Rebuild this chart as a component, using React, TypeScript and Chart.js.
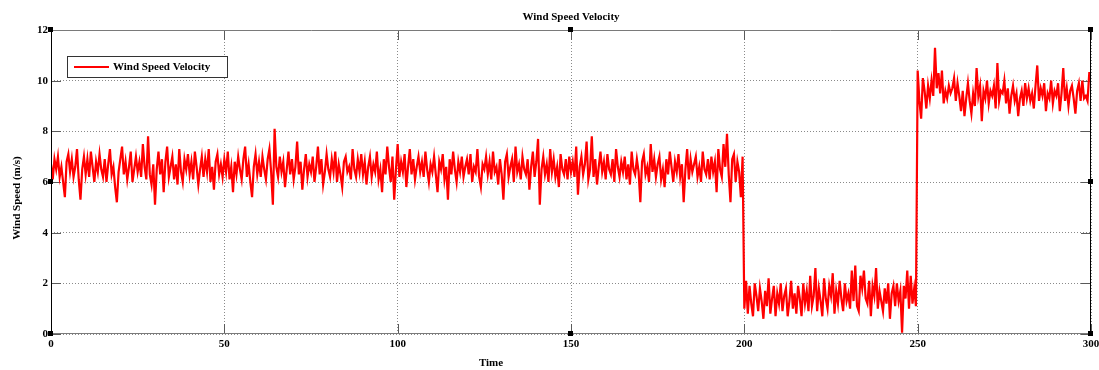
import React, { useEffect, useRef } from 'react';
import { Chart, registerables } from 'chart.js';

Chart.register(...registerables);

const FONT = '"Liberation Serif", "Times New Roman", serif';
const CHART_TITLE = 'Wind Speed Velocity';
const X_TITLE = 'Time';
const Y_TITLE = 'Wind Speed (m/s)';
const SERIES_LABEL = 'Wind Speed Velocity';

const TIME_STEP = 0.5;
const X_MIN = 0;
const X_MAX = 300;
const X_TICK_STEP = 50;
const Y_MIN = 0;
const Y_MAX = 12;
const Y_TICK_STEP = 2;

// t = 0 .. 199.5 (step 0.5)
const normalWindValues = [
  6.7, 6.1, 6.9, 6.5, 7.0, 6.2, 6.6, 6.0, 5.4, 6.8, 7.1, 6.4, 6.9, 6.2, 6.6, 7.3, 6.1, 5.3, 6.5, 7.0,
  6.3, 6.9, 6.2, 7.2, 6.6, 6.0, 6.8, 6.4, 7.1, 6.5, 6.2, 6.9, 6.0, 6.7, 7.3, 6.3, 6.6, 5.8, 5.2, 6.4,
  6.9, 7.4, 6.3, 6.8, 6.1, 6.6, 7.2, 6.0, 6.5, 7.0, 6.4, 6.8, 6.2, 7.5, 6.6, 6.1, 7.8, 6.3, 5.9, 6.7,
  5.1, 6.5, 7.2, 6.3, 6.9, 5.6, 6.8, 7.4, 6.2, 6.6, 7.0, 6.1, 6.7, 5.9, 7.3, 6.4, 6.0, 6.9, 6.5, 7.1,
  6.3, 6.8, 6.1, 7.2, 6.6, 5.9, 6.5, 7.0, 6.2, 6.9, 6.4, 7.3, 6.0, 6.6, 5.7, 6.8, 7.1, 6.3, 6.7, 6.2,
  6.9, 6.4, 7.2, 6.1, 6.6, 5.6, 6.8, 6.3, 7.0, 6.5, 6.1, 6.9, 7.4, 6.2, 6.7, 6.0, 5.4, 6.6, 7.1, 6.3,
  6.8, 6.2, 7.0, 6.5, 6.1, 6.9, 7.3, 6.4, 5.1, 8.1, 6.6, 6.2, 7.0, 6.4, 6.8, 5.8, 6.5, 7.2, 6.3, 6.9,
  6.1, 6.6, 7.6, 6.3, 6.8, 5.7, 6.5, 7.1, 6.2, 6.7, 6.4, 7.0, 6.0, 6.6, 7.4, 6.3, 6.9, 5.9, 6.4, 7.1,
  6.5, 6.2, 6.9, 6.4, 7.2, 6.0, 6.7, 6.3, 5.8, 6.8, 7.0, 6.4, 6.6, 6.1, 7.3, 6.5, 6.2, 6.9, 6.4, 7.1,
  6.3, 6.8, 5.9, 6.6, 7.0, 6.2, 6.7, 6.4, 7.2, 6.1, 6.5, 5.6, 6.9, 6.3, 7.4, 6.6, 6.0, 7.0, 5.3, 6.5,
  7.5, 6.2, 6.8, 6.4, 7.1, 5.8, 6.6, 7.3, 6.3, 6.9, 6.1, 6.6, 7.0, 6.4, 6.8, 6.2, 7.2, 6.5, 6.0, 6.7,
  6.4, 7.0, 6.3, 5.6, 6.8, 6.5, 7.1, 6.1, 6.6, 5.3, 6.9, 6.3, 7.2, 6.5, 6.0, 6.8, 6.4, 7.0, 6.2, 6.6,
  6.9, 6.3, 7.1, 6.0, 6.6, 6.4, 7.3, 6.2, 5.8, 6.7, 6.5, 7.0, 6.3, 6.8, 6.1, 7.2, 6.4, 6.6, 5.9, 6.9,
  6.3, 5.3, 6.8, 7.1, 6.2, 6.6, 6.9, 6.0, 7.4, 6.4, 6.7, 6.1, 7.0, 6.5, 6.3, 6.9, 5.7, 6.6, 7.2, 6.2,
  6.8, 7.7, 5.1, 6.5, 7.0, 6.3, 6.7, 6.0, 7.3, 6.4, 6.9, 6.2, 6.6, 5.8, 7.1, 6.5, 6.3, 6.9, 6.1, 7.0,
  6.4, 6.8, 6.2, 7.4, 5.5, 6.6, 7.0, 6.3, 6.7, 7.6, 6.1, 6.5, 7.8, 6.2, 6.9, 5.9, 6.6, 7.2, 6.4, 6.8,
  6.1, 7.1, 6.5, 6.3, 6.9, 6.0, 7.3, 6.6, 6.2, 6.8, 6.4, 7.0, 6.1, 6.7, 5.9, 7.2, 6.5, 6.3, 6.9, 6.4,
  5.2, 6.8, 7.1, 6.3, 6.6, 6.0, 7.5, 6.4, 6.9, 6.2, 6.7, 7.0, 6.1, 6.5, 5.8, 6.9, 6.3, 7.2, 6.6, 6.0,
  6.8, 6.4, 7.1, 6.2, 6.7, 5.2, 6.5, 7.3, 6.1, 6.9, 6.4, 6.7, 7.0, 6.2, 6.6, 6.0, 7.2, 6.5, 6.3, 6.9,
  6.1, 7.0, 6.4, 6.8, 5.6, 7.3, 6.5, 6.2, 7.5, 6.6, 7.9, 6.3, 5.2, 6.9, 7.1, 6.0, 6.8, 6.4, 5.4, 7.0,
];

// t = 200 .. 249.5
const lowWindValues = [
  1.0, 2.1, 0.8, 1.9, 1.2, 0.7, 2.0, 1.5, 0.9, 1.8, 1.3, 0.6, 1.7, 1.1, 2.2, 0.8, 1.4, 1.9, 0.7, 1.6,
  1.2, 2.0, 0.9, 1.5, 1.8, 0.7, 1.3, 2.1, 1.0, 1.6, 0.8, 1.9, 1.4, 0.7, 2.0, 1.2, 1.7, 0.9, 2.3, 1.1,
  1.5, 2.6, 0.9, 1.8, 1.3, 0.7, 2.2, 1.4, 1.0, 1.9, 1.5, 2.4, 0.8, 1.7, 1.2, 2.1, 1.4, 0.9, 2.0, 1.3,
  1.6, 1.0, 2.5, 1.3, 2.7, 1.1, 0.9, 2.3, 1.8, 2.5, 1.4, 1.2, 2.1, 0.7, 1.9, 1.5, 2.6, 1.0, 1.7, 1.3,
  0.9, 1.8, 1.2, 2.0, 0.6, 1.6, 1.9, 1.1, 2.0, 1.3, 1.7, 0.05, 1.9, 1.4, 2.5, 1.0, 2.3, 1.2, 1.8, 1.1,
];

// t = 250 .. 300
const highWindValues = [
  10.4, 9.2, 8.5, 10.1, 9.6, 8.9, 9.8, 9.3, 10.0, 9.4, 11.3, 9.7, 10.3, 9.5, 10.4, 9.1, 9.6, 9.3, 9.8, 9.5,
  9.7, 10.1, 9.2, 9.9, 9.4, 8.8, 9.6, 8.6, 9.3, 9.9, 9.2, 8.7, 9.5, 9.0, 10.5, 9.4, 9.8, 8.4, 9.6, 9.3,
  10.0, 9.1, 9.6, 9.4, 9.8, 8.9, 10.7, 9.2, 9.6, 9.5, 10.0, 9.1, 9.7, 8.7, 9.4, 9.8, 9.2, 9.5, 8.6, 9.3,
  9.6, 9.0, 9.9, 9.3, 9.7, 9.2, 9.5, 8.9, 9.8, 10.6, 9.2, 9.7, 9.4, 9.9, 8.8, 9.5, 9.3, 10.0, 9.1, 9.6,
  9.4, 9.9, 8.8, 9.5, 10.5, 9.2, 9.7, 9.0, 9.6, 9.8, 9.3, 8.7, 9.6, 9.9, 9.2, 10.0, 9.3, 9.4, 9.2, 10.3,
  10.3,
];

const windSpeed = [...normalWindValues, ...lowWindValues, ...highWindValues];

const matlabPlugin = {
  id: 'matlabFrame',
  beforeDatasetsDraw(chart: any) {
    const { ctx, chartArea, scales } = chart;
    const { left, right, top, bottom } = chartArea;
    const xs = scales.x;
    const ys = scales.y;
    ctx.save();
    ctx.lineWidth = 1;
    ctx.strokeStyle = '#5a5a5a';
    ctx.beginPath();
    xs.ticks.forEach((t: any) => {
      const px = Math.round(xs.getPixelForValue(t.value)) + 0.5;
      ctx.moveTo(px, top);
      ctx.lineTo(px, top + 10);
      ctx.moveTo(px, bottom);
      ctx.lineTo(px, bottom - 10);
    });
    ys.ticks.forEach((t: any) => {
      const py = Math.round(ys.getPixelForValue(t.value)) + 0.5;
      ctx.moveTo(left, py);
      ctx.lineTo(left + 10, py);
      ctx.moveTo(right, py);
      ctx.lineTo(right - 10, py);
    });
    ctx.stroke();
    ctx.restore();
  },
  afterDatasetsDraw(chart: any) {
    const { ctx, chartArea } = chart;
    const { left, right, top, bottom } = chartArea;
    const L = Math.round(left) + 0.5;
    const R = Math.round(right) - 0.5;
    const T = Math.round(top) + 0.5;
    const B = Math.round(bottom) - 0.5;
    ctx.save();
    ctx.lineWidth = 1;
    ctx.strokeStyle = '#7a7a7a';
    ctx.beginPath();
    ctx.moveTo(L, T);
    ctx.lineTo(R, T);
    ctx.moveTo(L, B);
    ctx.lineTo(R, B);
    ctx.stroke();
    ctx.strokeStyle = '#000';
    ctx.beginPath();
    ctx.moveTo(L, T);
    ctx.lineTo(L, B);
    ctx.moveTo(R, T);
    ctx.lineTo(R, B);
    ctx.stroke();

    // legend
    const ds = chart.data.datasets[0];
    const lx = 67.5, ly = 56.5, lw = 160, lh = 21;
    ctx.fillStyle = '#fff';
    ctx.fillRect(lx, ly, lw, lh);
    ctx.strokeStyle = '#333';
    ctx.strokeRect(lx, ly, lw, lh);
    ctx.strokeStyle = ds.borderColor;
    ctx.lineWidth = 2;
    ctx.beginPath();
    ctx.moveTo(74, 67);
    ctx.lineTo(109, 67);
    ctx.stroke();
    ctx.fillStyle = '#000';
    ctx.font = `bold 11px ${FONT}`;
    ctx.textAlign = 'left';
    ctx.textBaseline = 'middle';
    ctx.fillText(ds.label, 113, 67.5);

    // selection handles
    ctx.fillStyle = '#000';
    const cx = (left + right) / 2;
    const cy = (top + bottom) / 2;
    const pts = [
      [left, top], [cx, top], [right, top],
      [left, cy], [right, cy],
      [left, bottom], [cx, bottom], [right, bottom],
    ];
    pts.forEach(([px, py]) => {
      ctx.fillRect(Math.round(px) - 3, Math.round(py) - 3, 5, 5);
    });
    ctx.restore();
  },
  afterDraw(chart: any) {
    const { ctx, chartArea } = chart;
    const { left, right } = chartArea;
    ctx.save();
    ctx.fillStyle = '#000';
    ctx.font = `bold 11px ${FONT}`;
    ctx.textAlign = 'center';
    ctx.textBaseline = 'middle';
    ctx.fillText(CHART_TITLE, (left + right) / 2, 17);
    ctx.fillText(X_TITLE, 491, 363);
    ctx.translate(17, 198);
    ctx.rotate(-Math.PI / 2);
    ctx.fillText(Y_TITLE, 0, 0);
    ctx.restore();
  },
};

export default function App() {
  const canvasRef = useRef<HTMLCanvasElement | null>(null);

  useEffect(() => {
    const canvas = canvasRef.current;
    if (!canvas) return;
    const points = windSpeed.map((v, i) => ({ x: i * TIME_STEP, y: v }));
    const tickFont = { family: FONT, size: 11, weight: 'bold' as const };
    const chart = new Chart(canvas, {
      type: 'line',
      data: {
        datasets: [
          {
            label: SERIES_LABEL,
            data: points,
            borderColor: '#ff0000',
            borderWidth: 2.2,
            pointRadius: 0,
            tension: 0,
            fill: false,
          },
        ],
      },
      options: {
        animation: false,
        responsive: false,
        maintainAspectRatio: false,
        devicePixelRatio: 1,
        events: [],
        layout: { padding: { top: 30, right: 8, left: 0, bottom: 0 } },
        plugins: {
          legend: { display: false },
          title: { display: false },
          tooltip: { enabled: false },
        },
        scales: {
          x: {
            type: 'linear',
            min: X_MIN,
            max: X_MAX,
            ticks: { stepSize: X_TICK_STEP, font: tickFont, color: '#000', padding: 4, maxRotation: 0 },
            grid: { color: '#8a8a8a', drawTicks: false, lineWidth: 1 },
            border: { display: false, dash: [1, 2] },
            afterFit: (s: any) => {
              s.height = 36;
              s.paddingLeft = 0;
              s.paddingRight = 0;
            },
          },
          y: {
            type: 'linear',
            min: Y_MIN,
            max: Y_MAX,
            ticks: { stepSize: Y_TICK_STEP, font: tickFont, color: '#000', padding: 3 },
            grid: { color: '#8a8a8a', drawTicks: false, lineWidth: 1 },
            border: { display: false, dash: [1, 2] },
            afterFit: (s: any) => {
              s.width = 51;
              s.paddingTop = 0;
              s.paddingBottom = 0;
            },
          },
        },
      },
      plugins: [matlabPlugin],
    });
    return () => chart.destroy();
  }, []);

  return (
    <div style={{ position: 'fixed', left: 0, top: 0, width: 1099, height: 370, background: '#fff' }}>
      <canvas ref={canvasRef} width={1099} height={370} style={{ display: 'block' }} />
    </div>
  );
}
